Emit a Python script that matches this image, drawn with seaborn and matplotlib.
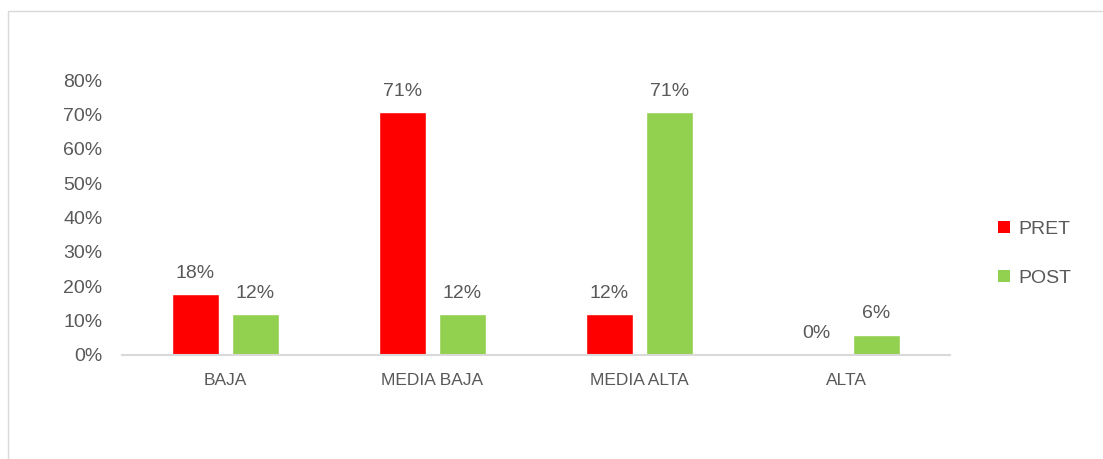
import pandas as pd
import seaborn as sns
import matplotlib.pyplot as plt
from matplotlib.patches import Rectangle, Patch

# data (17 cases -> 3/17, 2/17, ...)
categories = ["BAJA", "MEDIA BAJA", "MEDIA ALTA", "ALTA"]
pret = [0.176, 0.706, 0.118, 0.0]
post = [0.118, 0.118, 0.706, 0.059]
series = ["PRET", "POST"]
colors = ["#FF0000", "#92D050"]
yticks = [0, 0.1, 0.2, 0.3, 0.4, 0.5, 0.6, 0.7, 0.8]

data = pd.DataFrame({
    "nivel": categories * 2,
    "valor": pret + post,
    "grupo": ["PRET"] * len(categories) + ["POST"] * len(categories),
})

sns.set_style("white")
plt.rcParams['font.family'] = ['Liberation Sans', 'DejaVu Sans']
text_color = "#595959"

fig = plt.figure(figsize=(11.03, 4.59), dpi=100)
ax = fig.add_axes([0.1106, 0.2266, 0.7507, 0.5991])

sns.barplot(data=data, x="nivel", y="valor", hue="grupo", hue_order=series,
            palette=colors, width=0.58, gap=0.217, ax=ax, legend=False,
            saturation=1)

for cont in ax.containers:
    ax.bar_label(cont, labels=[f"{v * 100:.0f}%" for v in cont.datavalues],
                 padding=9, fontsize=14, color=text_color)

ax.set_ylim(0, 0.8)
ax.set_xlim(-0.5, 3.5)
ax.set_yticks(yticks)
ax.set_yticklabels([f"{t * 100:.0f}%" for t in yticks])
ax.set_xlabel("")
ax.set_ylabel("")
ax.tick_params(axis='y', length=0, pad=14, labelsize=14, labelcolor=text_color)
ax.tick_params(axis='x', length=0, pad=13, labelsize=12.5, labelcolor=text_color)

for s in ["left", "right", "top"]:
    ax.spines[s].set_visible(False)
ax.spines["bottom"].set_color("#D9D9D9")
ax.spines["bottom"].set_linewidth(1.5)

handles = [Patch(facecolor=c, edgecolor="none") for c in colors]
leg = fig.legend(handles, series, loc="center left", bbox_to_anchor=(0.889, 0.447),
                 frameon=False, fontsize=14, handlelength=0.62, handleheight=0.62,
                 handletextpad=0.4, labelspacing=1.65)
for t in leg.get_texts():
    t.set_color(text_color)

# light frame around the chart area
fig.patches.append(Rectangle((8 / 1103, -0.1), 1.1, 1.1 - 11 / 459,
                             transform=fig.transFigure, fill=False,
                             edgecolor="#D9D9D9", linewidth=1))

fig.savefig("out.png", dpi=100)
